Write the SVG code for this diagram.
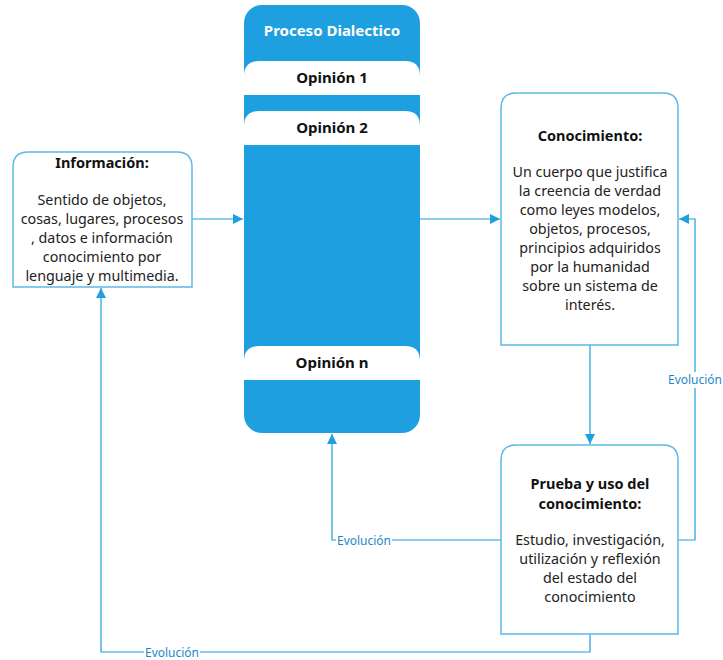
<svg xmlns="http://www.w3.org/2000/svg" width="723" height="660" viewBox="0 0 723 660">
  <defs>
    <marker id="arr" viewBox="0 0 10 10" refX="10" refY="5" markerWidth="10" markerHeight="10" markerUnits="userSpaceOnUse" orient="auto">
      <path d="M0,0 L10,5 L0,10 z" fill="#1E9FE0"/>
    </marker>
    <style>
      text { font-family: "Noto Sans", "Open Sans", "DejaVu Sans", sans-serif; }
      .box { fill: #ffffff; stroke: #5BB9E8; stroke-width: 1.5; }
      .t { font-size: 14.3px; fill: #222222; text-anchor: middle; }
      .b { font-size: 14.5px; font-weight: bold; fill: #111111; text-anchor: middle; }
      .op { font-size: 15px; font-weight: bold; fill: #111111; text-anchor: middle; }
      .wt { font-size: 15px; font-weight: bold; fill: #ffffff; text-anchor: middle; }
      .ln { fill: none; stroke: #1E9FE0; stroke-width: 1.2; }
      .lbl { font-size: 12px; fill: #1E88C8; text-anchor: middle; }
      .bg { fill: #ffffff; }
    </style>
  </defs>

  <!-- connectors -->
  <g id="connectors">
    <path class="ln" d="M192,219 H243" marker-end="url(#arr)"/>
    <path class="ln" d="M420,219 H500" marker-end="url(#arr)"/>
    <path class="ln" d="M590,345 V444" marker-end="url(#arr)"/>
    <path class="ln" d="M678,540 H695 V219 H679" marker-end="url(#arr)"/>
    <rect class="bg" x="666" y="372" width="58" height="16"/>
    <text class="lbl" x="695" y="384">Evolución</text>
    <path class="ln" d="M501,540 H332 V434" marker-end="url(#arr)"/>
    <rect class="bg" x="336" y="533" width="56" height="16"/>
    <text class="lbl" x="364" y="545">Evolución</text>
    <path class="ln" d="M590,634 V652 H101 V288" marker-end="url(#arr)"/>
    <rect class="bg" x="144" y="645" width="56" height="15"/>
    <text class="lbl" x="172" y="657">Evolución</text>
  </g>

  <!-- Información -->
  <g id="informacion">
    <path class="box" d="M13,287 V167 Q13,152 28,152 H177 Q192,152 192,167 V287 Z"/>
    <text class="b" x="102" y="168">Información:</text>
    <text class="t" x="102" y="205">Sentido de objetos,</text>
    <text class="t" x="102" y="224">cosas, lugares, procesos</text>
    <text class="t" x="102" y="243">, datos e información</text>
    <text class="t" x="102" y="262">conocimiento por</text>
    <text class="t" x="102" y="281">lenguaje y multimedia.</text>
  </g>

  <!-- Proceso Dialectico -->
  <g id="proceso">
    <rect x="244" y="5" width="176" height="428" rx="18" ry="18" fill="#1E9FE0"/>
    <text class="wt" x="332" y="36">Proceso Dialectico</text>
  </g>
  <g id="opinion1">
    <path d="M244,95 V76 Q244,61 259,61 H405 Q420,61 420,76 V95 Z" fill="#ffffff"/>
    <text class="op" x="332" y="83">Opinión 1</text>
  </g>
  <g id="opinion2">
    <path d="M244,145 V126 Q244,111 259,111 H405 Q420,111 420,126 V145 Z" fill="#ffffff"/>
    <text class="op" x="332" y="133">Opinión 2</text>
  </g>
  <g id="opinionN">
    <path d="M244,380 V361 Q244,346 259,346 H405 Q420,346 420,361 V380 Z" fill="#ffffff"/>
    <text class="op" x="332" y="368">Opinión n</text>
  </g>

  <!-- Conocimiento -->
  <g id="conocimiento">
    <path class="box" d="M501,345 V108 Q501,93 516,93 H663 Q678,93 678,108 V345 Z"/>
    <text class="b" x="590" y="141">Conocimiento:</text>
    <text class="t" x="590" y="177">Un cuerpo que justifica</text>
    <text class="t" x="590" y="196">la creencia de verdad</text>
    <text class="t" x="590" y="215">como leyes modelos,</text>
    <text class="t" x="590" y="234">objetos, procesos,</text>
    <text class="t" x="590" y="253">principios adquiridos</text>
    <text class="t" x="590" y="272">por la humanidad</text>
    <text class="t" x="590" y="291">sobre un sistema de</text>
    <text class="t" x="590" y="310">interés.</text>
  </g>

  <!-- Prueba y uso del conocimiento -->
  <g id="prueba">
    <path class="box" d="M501,634 V460 Q501,445 516,445 H663 Q678,445 678,460 V634 Z"/>
    <text class="b" x="590" y="489">Prueba y uso del</text>
    <text class="b" x="590" y="509">conocimiento:</text>
    <text class="t" x="590" y="545">Estudio, investigación,</text>
    <text class="t" x="590" y="564">utilización y reflexión</text>
    <text class="t" x="590" y="583">del estado del</text>
    <text class="t" x="590" y="602">conocimiento</text>
  </g>
</svg>
